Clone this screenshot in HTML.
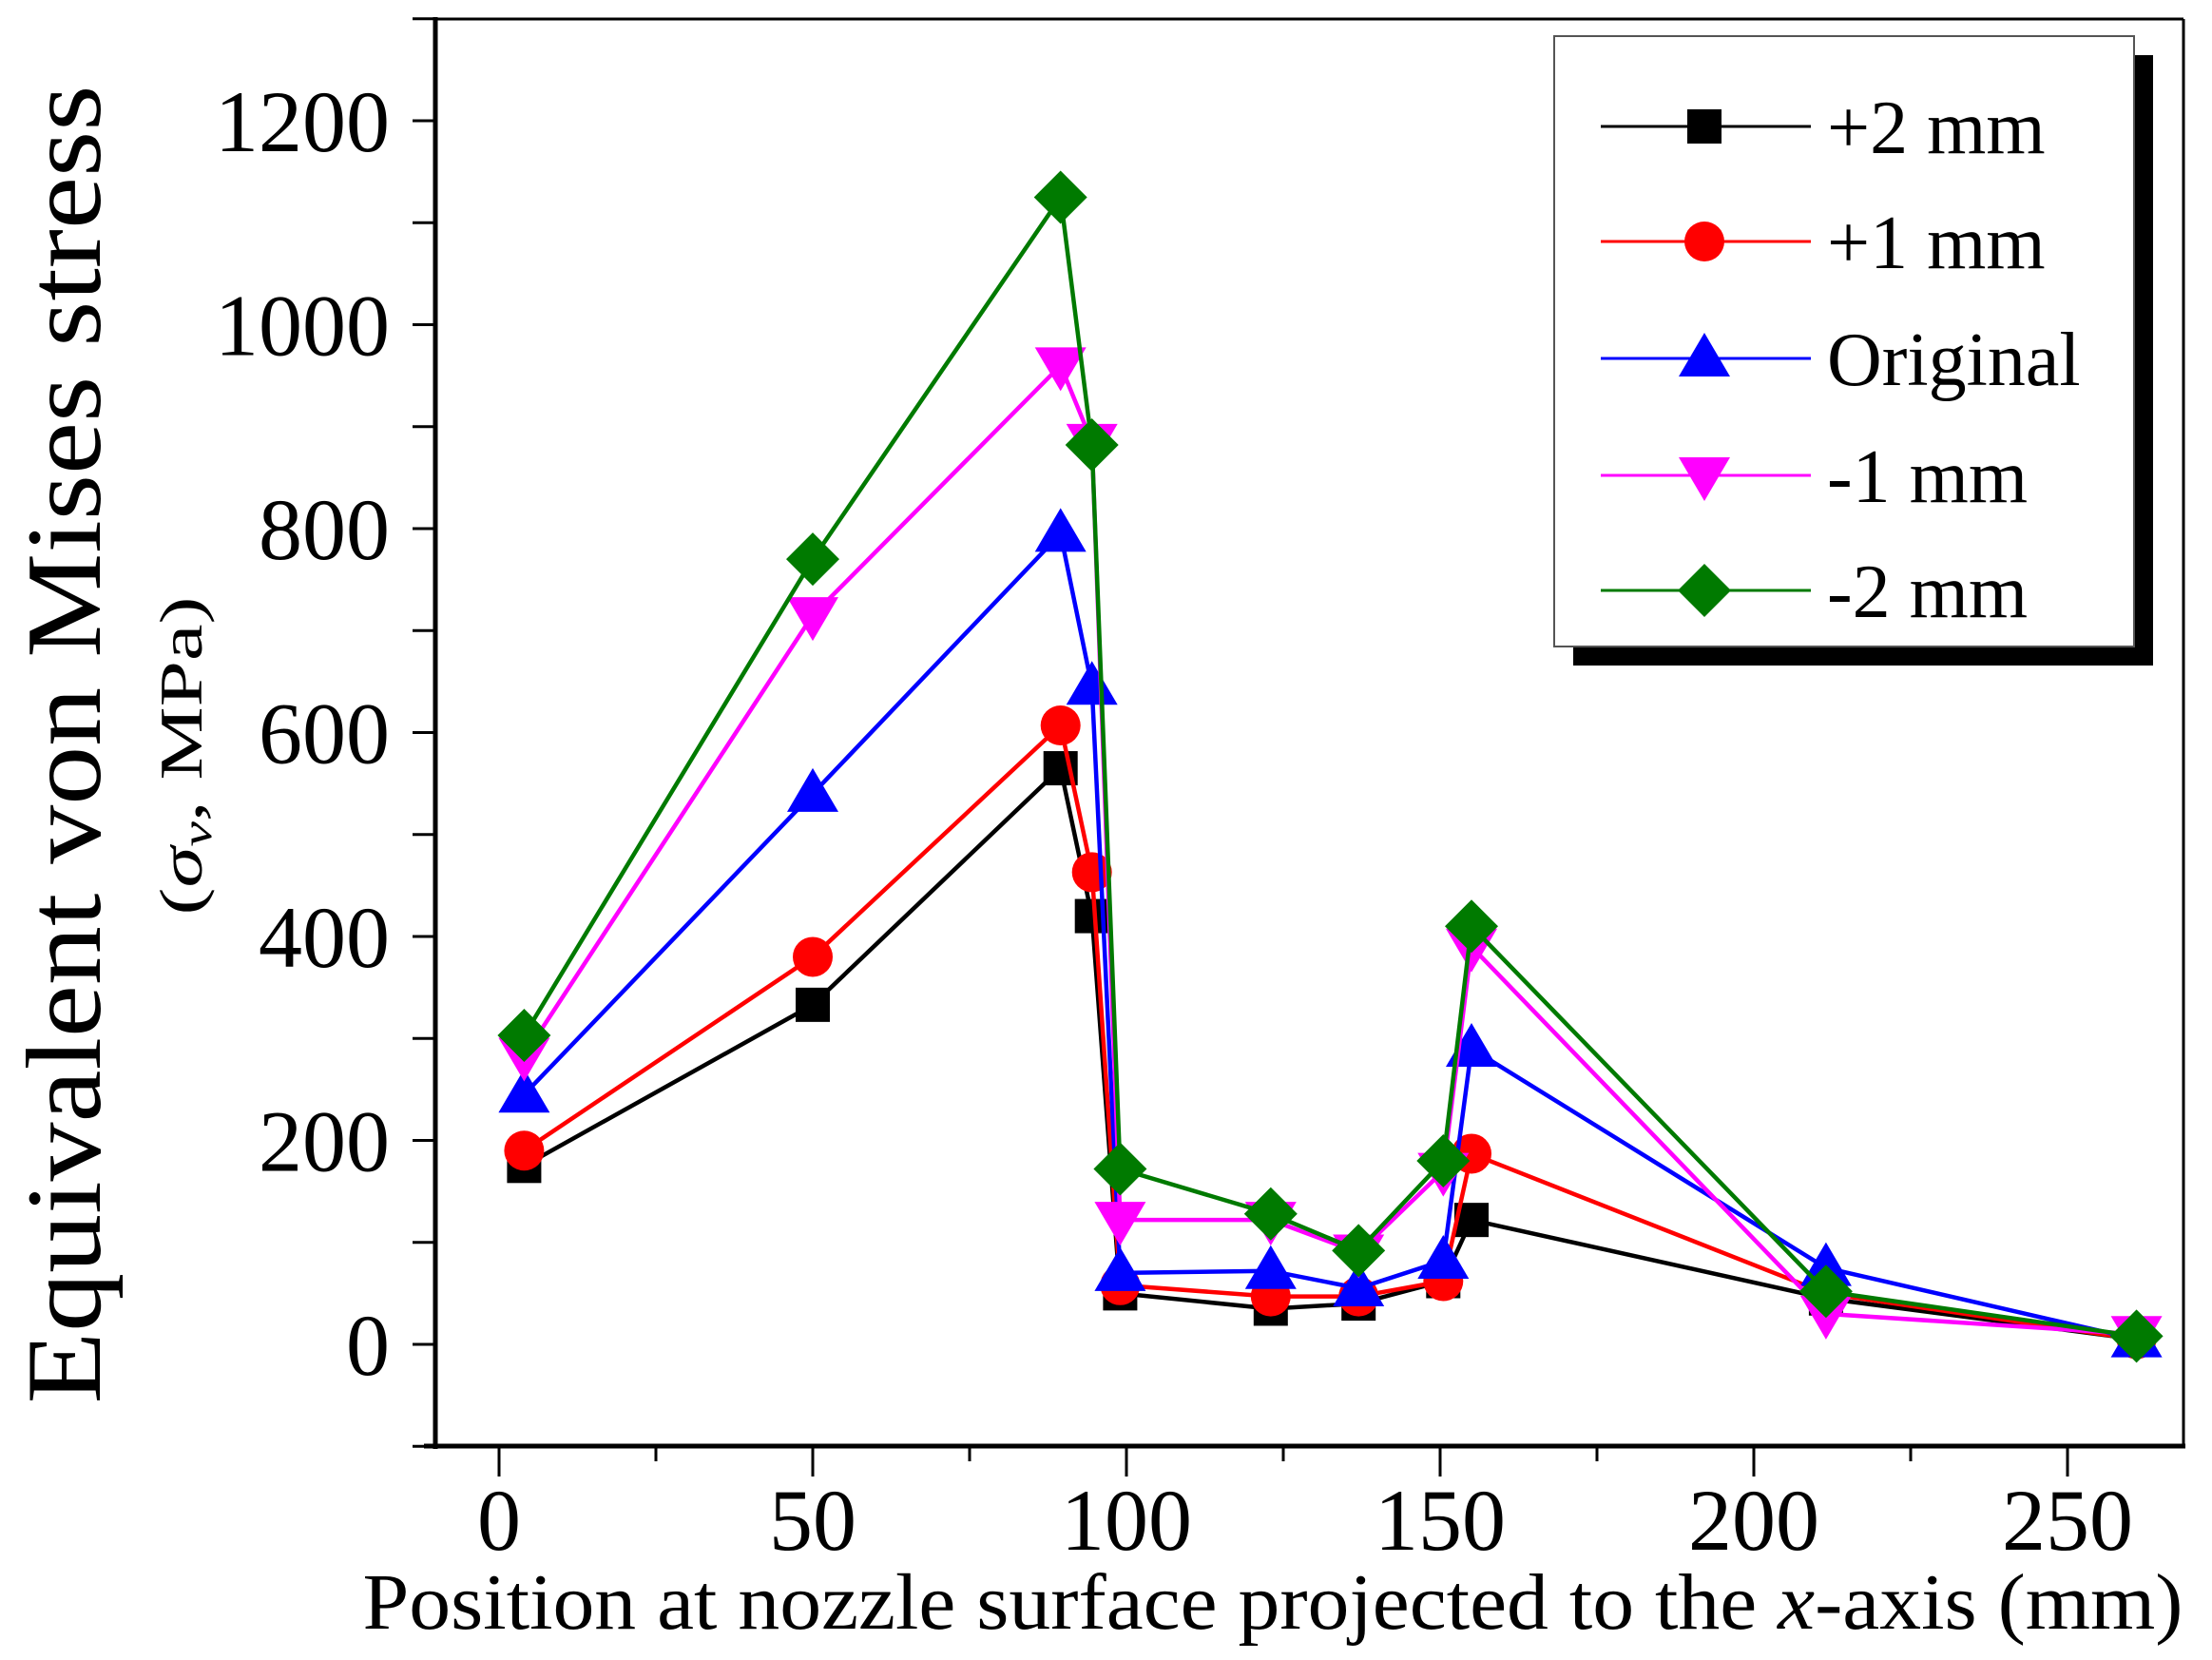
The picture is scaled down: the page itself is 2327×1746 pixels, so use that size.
<!DOCTYPE html>
<html><head><meta charset="utf-8"><style>html,body{margin:0;padding:0;background:#fff}svg{display:block}</style></head>
<body>
<svg xmlns="http://www.w3.org/2000/svg" width="2327" height="1746" viewBox="0 0 2327 1746" font-family="Liberation Serif, serif">
<rect width="2327" height="1746" fill="#fff"/>
<line x1="458" y1="20" x2="2297" y2="20" stroke="#000" stroke-width="3"/>
<line x1="2297" y1="20" x2="2297" y2="1521" stroke="#000" stroke-width="3"/>
<line x1="458" y1="18" x2="458" y2="1524" stroke="#000" stroke-width="5"/>
<line x1="446" y1="1521" x2="2299" y2="1521" stroke="#000" stroke-width="5"/>
<g stroke="#000" stroke-width="3" id="yt"></g>
<g stroke="#000" stroke-width="3" id="xt"></g>
<g font-size="92" text-anchor="end" id="yl"></g>
<g font-size="92" text-anchor="middle" id="xl"></g>
<text x="1339" y="1713" font-size="84" text-anchor="middle" textLength="1915" lengthAdjust="spacingAndGlyphs">Position at nozzle surface projected to the <tspan font-style="italic">x</tspan>-axis (mm)</text>
<text transform="translate(105,783) rotate(-90)" font-size="112" text-anchor="middle" textLength="1387" lengthAdjust="spacingAndGlyphs">Equivalent von Mises stress</text>
<text transform="translate(212,795) rotate(-90)" font-size="64" text-anchor="middle" textLength="335" lengthAdjust="spacingAndGlyphs">(<tspan font-style="italic">σ</tspan><tspan font-style="italic" font-size="44" dy="10">v</tspan><tspan dy="-10">, MPa)</tspan></text>
<g id="series"></g>
<rect x="1655" y="58" width="610" height="642" fill="#000"/>
<rect x="1635" y="38" width="610" height="642" fill="#fff" stroke="#555" stroke-width="2"/>
<g id="leg"></g>
</svg>
<script>
const NS="http://www.w3.org/2000/svg";
const X=v=>525+v*6.6, Y=v=>1414-v*1.0725;
function el(p,t,a){const e=document.createElementNS(NS,t);for(const k in a)e.setAttribute(k,a[k]);p.appendChild(e);return e;}
const yt=document.getElementById('yt'),xt=document.getElementById('xt'),yl=document.getElementById('yl'),xl=document.getElementById('xl');
for(let v=-100;v<=1300;v+=100){el(yt,'line',{x1:434,x2:458,y1:Y(v),y2:Y(v)});}
for(let v=0;v<=1200;v+=200){const t=el(yl,'text',{x:410,y:Y(v)+32});t.textContent=v;}
for(let v=0;v<=265;v+=25){const L=v%50==0?32:16;el(xt,'line',{x1:X(v),x2:X(v),y1:1521,y2:1521+L});}
for(let v=0;v<=250;v+=50){const t=el(xl,'text',{x:X(v),y:1630});t.textContent=v;}
const xs=[4,50,89.5,94.5,99,123,137,150.5,155,211.5,261];
const S=[
 ['#000','sq',[175,333,565,420,50,35,40,62,122,45,5]],
 ['#f00','ci',[190,380,607,463,58,47,47,62,187,50,5]],
 ['#00f','tu',[245,540,795,645,70,72,55,82,290,75,5]],
 ['#f0f','td',[283,715,960,885,122,122,90,170,390,30,10]],
 ['#007a00','di',[303,770,1125,882,172,128,92,180,410,52,8]]];
function mk(g,type,c,x,y){
 if(type=='sq')el(g,'rect',{x:x-18,y:y-18,width:36,height:36,fill:c});
 else if(type=='ci')el(g,'circle',{cx:x,cy:y,r:21,fill:c});
 else if(type=='tu')el(g,'polygon',{points:`${x},${y-27} ${x+27},${y+19} ${x-27},${y+19}`,fill:c});
 else if(type=='td')el(g,'polygon',{points:`${x},${y+27} ${x+27},${y-19} ${x-27},${y-19}`,fill:c});
 else el(g,'polygon',{points:`${x},${y-28} ${x+28},${y} ${x},${y+28} ${x-28},${y}`,fill:c});
}
const sg=document.getElementById('series');
S.forEach(([c,t,ys])=>{
 el(sg,'polyline',{points:xs.map((x,i)=>X(x)+','+Y(ys[i])).join(' '),fill:'none',stroke:c,'stroke-width':4.5,'stroke-linejoin':'round'});
 xs.forEach((x,i)=>mk(sg,t,c,X(x),Y(ys[i])));
});
const lg=document.getElementById('leg');
const names=['+2 mm','+1 mm','Original','-1 mm','-2 mm'], ry=[133,254,377,500,621];
S.forEach(([c,t],i)=>{
 el(lg,'line',{x1:1684,x2:1905,y1:ry[i],y2:ry[i],stroke:c,'stroke-width':3});
 mk(lg,t,c,1793,ry[i]);
 const tx=el(lg,'text',{x:1922,y:ry[i]+28,'font-size':80});tx.textContent=names[i];
});
</script>
</body></html>
